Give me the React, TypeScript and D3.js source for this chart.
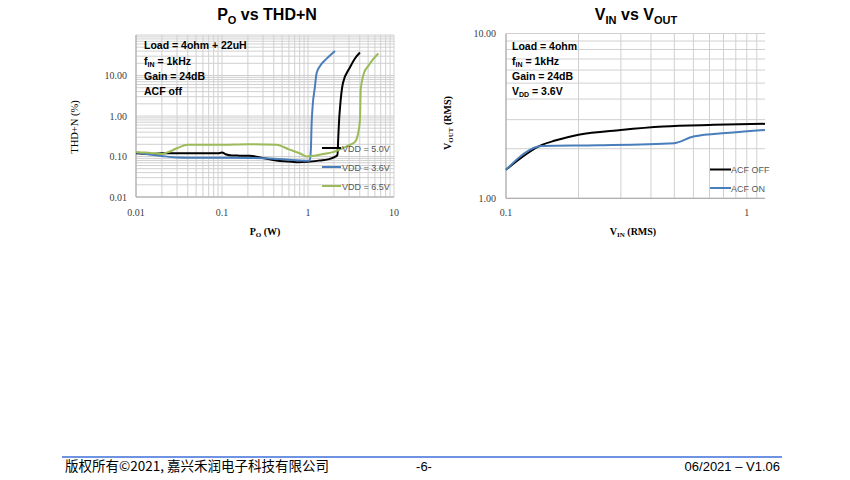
import React from "react";
import * as d3 from "d3";

// Left chart: PO vs THD+N
const blueP = [0.01, 0.013, 0.02, 0.03, 0.05, 0.1, 0.2, 0.4, 0.6, 0.8, 1.0, 1.05, 1.08, 1.1, 1.13, 1.2, 1.26, 1.4, 1.58, 1.8, 2.06];
const blueT = [0.125, 0.115, 0.103, 0.095, 0.093, 0.093, 0.092, 0.088, 0.083, 0.08, 0.079, 0.08, 0.15, 0.6, 1.67, 5, 11.5, 18, 24, 31, 40];
const blackP = [0.01, 0.014, 0.02, 0.05, 0.09, 0.1, 0.11, 0.13, 0.16, 0.21, 0.3, 0.43, 0.6, 0.74, 1.0, 1.38, 1.7, 2.0, 2.2, 2.25, 2.3, 2.36, 2.55, 3.08, 3.5, 4.02];
const blackT = [0.12, 0.115, 0.12, 0.12, 0.12, 0.125, 0.114, 0.106, 0.105, 0.104, 0.092, 0.08, 0.075, 0.072, 0.074, 0.08, 0.085, 0.095, 0.11, 0.3, 0.8, 1.67, 6.5, 16, 26, 37];
const greenP = [0.01, 0.013, 0.016, 0.02, 0.025, 0.03, 0.04, 0.1, 0.2, 0.43, 0.6, 0.8, 0.97, 1.2, 1.5, 2.0, 2.5, 3.0, 3.52, 3.8, 4.02, 4.1, 4.48, 5.0, 5.7, 6.57];
const greenT = [0.13, 0.125, 0.12, 0.115, 0.135, 0.16, 0.195, 0.195, 0.2, 0.195, 0.15, 0.12, 0.1, 0.105, 0.115, 0.13, 0.16, 0.19, 0.23, 0.35, 0.8, 4.4, 11.5, 17, 25, 35];
const leftSeriesNames = ["VDD = 5.0V", "VDD = 3.6V", "VDD = 6.5V"];
const leftYTicks = [0.01, 0.1, 1, 10];
const leftYTickLabels = ["0.01", "0.10", "1.00", "10.00"];
const leftXTicks = [0.01, 0.1, 1, 10];
const leftXTickLabels = ["0.01", "0.1", "1", "10"];

// Right chart: VIN vs VOUT
const offVin = [0.1, 0.141, 0.16, 0.2, 0.3, 0.45, 0.73, 1.19];
const offVout = [1.49, 2.11, 2.24, 2.43, 2.6, 2.73, 2.79, 2.83];
const onVin = [0.1, 0.141, 0.24, 0.5, 0.6, 0.85, 1.19];
const onVout = [1.49, 2.08, 2.1, 2.16, 2.37, 2.5, 2.6];
const rightSeriesNames = ["ACF OFF", "ACF ON"];
const rightYTicks = [1, 10];
const rightYTickLabels = ["1.00", "10.00"];
const rightXTicks = [0.1, 1];
const rightXTickLabels = ["0.1", "1"];

const C_BLACK = "#000000";
const C_BLUE = "#4a7ebb";
const C_GREEN = "#9bbb59";
const GRID = "#d0d0d0";
const AXIS = "#a6a6a6";
const SERIF = "'Liberation Serif', 'Times New Roman', serif";
const SANS = "'Liberation Sans', Arial, sans-serif";

function logGrid(lo: number, hi: number): number[] {
  const out: number[] = [];
  let dec = lo;
  while (dec < hi * 0.9999) {
    for (let k = 1; k <= 9; k++) {
      const v = dec * k;
      if (v <= hi * 1.0001) out.push(v);
    }
    dec *= 10;
  }
  out.push(hi);
  return Array.from(new Set(out.map((v) => +v.toPrecision(6))));
}

function zip(xs: number[], ys: number[]): [number, number][] {
  return xs.map((x, i) => [x, ys[i]] as [number, number]);
}

export default function App() {
  // Left scales
  const lx = d3.scaleLog().domain([0.01, 10]).range([136, 394]);
  const ly = d3.scaleLog().domain([0.01, 100]).range([197, 35]);
  const lLine = d3
    .line<[number, number]>()
    .x((d) => lx(d[0]))
    .y((d) => ly(d[1]))
    .curve(d3.curveMonotoneX);

  // Right scales
  const rx = d3.scaleLog().domain([0.1, 1.19]).range([506, 765]);
  const ry = d3.scaleLog().domain([1, 10]).range([198.3, 33.5]);
  const rLine = d3
    .line<[number, number]>()
    .x((d) => rx(d[0]))
    .y((d) => ry(d[1]))
    .curve(d3.curveMonotoneX);

  const lxGrid = logGrid(0.01, 10);
  const lyGrid = logGrid(0.01, 100);
  const rxGrid = logGrid(0.1, 1).concat([1.1]);
  const ryGrid = logGrid(1, 10);

  const leftSeries = [
    { name: leftSeriesNames[0], color: C_BLACK, pts: zip(blackP, blackT) },
    { name: leftSeriesNames[1], color: C_BLUE, pts: zip(blueP, blueT) },
    { name: leftSeriesNames[2], color: C_GREEN, pts: zip(greenP, greenT) },
  ];
  const rightSeries = [
    { name: rightSeriesNames[0], color: C_BLACK, pts: zip(offVin, offVout) },
    { name: rightSeriesNames[1], color: C_BLUE, pts: zip(onVin, onVout) },
  ];

  return (
    <svg
      width={850}
      height={480}
      style={{ position: "absolute", left: 0, top: 0, background: "#fff" }}
    >
      {/* ===== Left chart ===== */}
      <text x={267} y={20} textAnchor="middle" fontFamily={SANS} fontWeight="bold" fontSize={16} fill="#000">
        P<tspan dy={4} fontSize={11}>O</tspan>
        <tspan dy={-4}> vs THD+N</tspan>
      </text>
      <g>
        {lxGrid.map((v, i) => (
          <line key={"lxg" + i} x1={lx(v)} x2={lx(v)} y1={35} y2={197} stroke={GRID} strokeWidth={1} />
        ))}
        {lyGrid.map((v, i) => (
          <line key={"lyg" + i} x1={136} x2={394} y1={ly(v)} y2={ly(v)} stroke={GRID} strokeWidth={1} />
        ))}
        <line x1={136} x2={136} y1={35} y2={197} stroke={AXIS} />
        <line x1={136} x2={394} y1={197} y2={197} stroke={AXIS} />
      </g>
      {leftYTicks.map((v, i) => (
        <text key={"lyt" + i} x={127} y={ly(v) + 3.5} textAnchor="end" fontFamily={SERIF} fontSize={10} fill="#404040">
          {leftYTickLabels[i]}
        </text>
      ))}
      {leftXTicks.map((v, i) => (
        <text key={"lxt" + i} x={lx(v)} y={216} textAnchor="middle" fontFamily={SERIF} fontSize={10} fill="#404040">
          {leftXTickLabels[i]}
        </text>
      ))}
      <text transform="translate(78,127) rotate(-90)" textAnchor="middle" fontFamily={SERIF} fontSize={10.5} fill="#000">
        THD+N (%)
      </text>
      <text x={265} y={235} textAnchor="middle" fontFamily={SERIF} fontWeight="bold" fontSize={10} fill="#000">
        P<tspan dy={2} fontSize={7}>O</tspan>
        <tspan dy={-2}> (W)</tspan>
      </text>
      <g fontFamily={SANS} fontWeight="bold" fontSize={10.5} fill="#000">
        <text x={144} y={49}>Load = 4ohm + 22uH</text>
        <text x={144} y={65}>
          f<tspan dy={2} fontSize={7}>IN</tspan>
          <tspan dy={-2}> = 1kHz</tspan>
        </text>
        <text x={144} y={80}>Gain = 24dB</text>
        <text x={144} y={95}>ACF off</text>
      </g>
      {leftSeries.map((s, i) => (
        <path key={"ls" + i} d={lLine(s.pts) || ""} fill="none" stroke={s.color} strokeWidth={2} strokeLinejoin="round" />
      ))}
      {leftSeries.map((s, i) => (
        <g key={"lleg" + i}>
          <line x1={322} x2={341} y1={148 + i * 19} y2={148 + i * 19} stroke={s.color} strokeWidth={2} />
          <text x={342} y={151.5 + i * 19} fontFamily={SANS} fontSize={9} fill="#595959">
            {s.name}
          </text>
        </g>
      ))}

      {/* ===== Right chart ===== */}
      <text x={636} y={20} textAnchor="middle" fontFamily={SANS} fontWeight="bold" fontSize={16} fill="#000">
        V<tspan dy={4} fontSize={11}>IN</tspan>
        <tspan dy={-4}> vs V</tspan>
        <tspan dy={4} fontSize={11}>OUT</tspan>
      </text>
      <g>
        {rxGrid.map((v, i) => (
          <line key={"rxg" + i} x1={rx(v)} x2={rx(v)} y1={33.5} y2={198.3} stroke={GRID} strokeWidth={1} />
        ))}
        {ryGrid.map((v, i) => (
          <line key={"ryg" + i} x1={506} x2={765} y1={ry(v)} y2={ry(v)} stroke={GRID} strokeWidth={1} />
        ))}
        <line x1={506} x2={506} y1={33.5} y2={198.3} stroke={AXIS} />
        <line x1={506} x2={765} y1={198.3} y2={198.3} stroke={AXIS} />
      </g>
      {rightYTicks.map((v, i) => (
        <text key={"ryt" + i} x={496} y={ry(v) + 3.5} textAnchor="end" fontFamily={SERIF} fontSize={10} fill="#404040">
          {rightYTickLabels[i]}
        </text>
      ))}
      {rightXTicks.map((v, i) => (
        <text key={"rxt" + i} x={rx(v)} y={216} textAnchor="middle" fontFamily={SERIF} fontSize={10} fill="#404040">
          {rightXTickLabels[i]}
        </text>
      ))}
      <text transform="translate(451,123) rotate(-90)" textAnchor="middle" fontFamily={SERIF} fontWeight="bold" fontSize={10} fill="#000">
        V<tspan dy={2} fontSize={7}>OUT</tspan>
        <tspan dy={-2}> (RMS)</tspan>
      </text>
      <text x={633} y={235} textAnchor="middle" fontFamily={SERIF} fontWeight="bold" fontSize={10} fill="#000">
        V<tspan dy={2} fontSize={7}>IN</tspan>
        <tspan dy={-2}> (RMS)</tspan>
      </text>
      <g fontFamily={SANS} fontWeight="bold" fontSize={10.5} fill="#000">
        <text x={512} y={50}>Load = 4ohm</text>
        <text x={512} y={65}>
          f<tspan dy={2} fontSize={7}>IN</tspan>
          <tspan dy={-2}> = 1kHz</tspan>
        </text>
        <text x={512} y={80}>Gain = 24dB</text>
        <text x={512} y={95}>
          V<tspan dy={2} fontSize={7}>DD</tspan>
          <tspan dy={-2}> = 3.6V</tspan>
        </text>
      </g>
      {rightSeries.map((s, i) => (
        <path key={"rs" + i} d={rLine(s.pts) || ""} fill="none" stroke={s.color} strokeWidth={2} strokeLinejoin="round" />
      ))}
      {rightSeries.map((s, i) => (
        <g key={"rleg" + i}>
          <line x1={710} x2={731} y1={169.5 + i * 18.5} y2={169.5 + i * 18.5} stroke={s.color} strokeWidth={2} />
          <text x={731} y={173 + i * 18.5} fontFamily={SANS} fontSize={9} fill="#595959">
            {s.name}
          </text>
        </g>
      ))}

      {/* ===== Footer ===== */}
      <line x1={62} x2={782} y1={457} y2={457} stroke="#3d6fd9" strokeWidth={1.5} />
      <text x={65} y={471} fontFamily="'Noto Sans CJK SC', 'Liberation Sans Narrow', sans-serif" fontSize={13.5} fill="#000">
        版权所有©2021, 嘉兴禾润电子科技有限公司
      </text>
      <text x={424} y={471} textAnchor="middle" fontFamily="'Liberation Sans Narrow', 'Liberation Sans', sans-serif" fontSize={13} fill="#000">
        -6-
      </text>
      <text x={780} y={471} textAnchor="end" fontFamily="'Liberation Sans Narrow', 'Liberation Sans', sans-serif" fontSize={13} fill="#000">
        06/2021 – V1.06
      </text>
    </svg>
  );
}
